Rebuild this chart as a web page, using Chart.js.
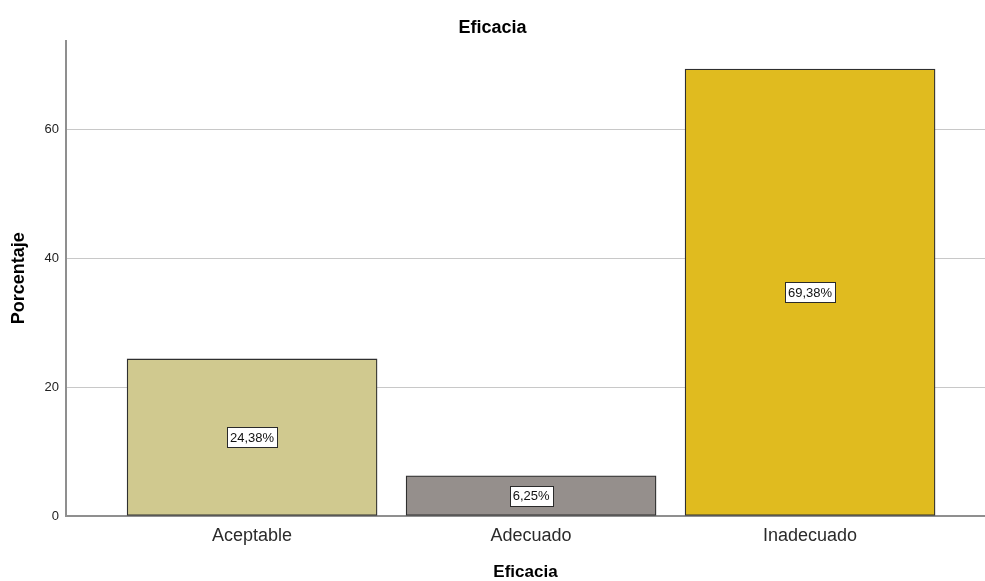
<!DOCTYPE html>
<html>
<head>
<meta charset="utf-8">
<title>Eficacia</title>
<script src="https://cdn.jsdelivr.net/npm/chart.js@4"></script>
<style>
  html, body { margin: 0; padding: 0; background: #fff; }
  #wrap { width: 985px; height: 581px; }
</style>
</head>
<body>
<div id="wrap"><canvas id="chart" width="985" height="581"></canvas></div>
<script>
const categories = ['Aceptable', 'Adecuado', 'Inadecuado'];
const percentages = [24.38, 6.25, 69.38];
const yTicks = [0, 20, 40, 60];
const barColors = ['#d0c98f', '#958f8c', '#e0bb1f'];

const fmtPct = v => v.toFixed(2).replace('.', ',') + '%';

// white boxed percentage in the middle of each bar
const barLabels = {
    id: 'barLabels',
    afterDatasetsDraw(chart) {
        const ctx = chart.ctx;
        const meta = chart.getDatasetMeta(0);
        ctx.save();
        ctx.font = '13px "Liberation Sans", Arial, sans-serif';
        ctx.textAlign = 'center';
        ctx.textBaseline = 'middle';
        meta.data.forEach((bar, i) => {
            const { x, y, base } = bar.getProps(['x', 'y', 'base'], true);
            const cy = (y + base) / 2;
            const text = fmtPct(percentages[i]);
            const w = Math.round(ctx.measureText(text).width) + 6;
            const h = 20;
            const bx = Math.round(x - w / 2) + 0.5;
            const by = Math.round(cy - h / 2) + 0.5;
            ctx.fillStyle = '#ffffff';
            ctx.fillRect(bx, by, w, h);
            ctx.strokeStyle = '#2a2a2a';
            ctx.lineWidth = 1;
            ctx.strokeRect(bx, by, w, h);
            ctx.fillStyle = '#111';
            ctx.fillText(text, x, cy + 1);
        });
        ctx.restore();
    }
};

new Chart(document.getElementById('chart'), {
    type: 'bar',
    data: {
        datasets: [{
            data: percentages.map((v, i) => ({ x: i + 1, y: v })),
            backgroundColor: barColors,
            borderColor: '#2f2f2f',
            borderWidth: 1.3,
            borderSkipped: false,
            barThickness: 250
        }]
    },
    options: {
        responsive: false,
        animation: false,
        layout: { padding: 0 },
        plugins: {
            legend: { display: false },
            tooltip: { enabled: false },
            title: {
                display: true,
                text: 'Eficacia',
                color: '#000',
                font: { family: '"Liberation Sans", Arial, sans-serif', size: 18, weight: 'bold' },
                padding: { top: 17, bottom: 2 }
            }
        },
        scales: {
            x: {
                type: 'linear',
                offset: false,
                min: 0.333,
                max: 3.627,
                grid: { display: false, drawTicks: false, offset: false },
                border: { color: '#8f8f8f', width: 2 },
                afterBuildTicks: s => { s.ticks = categories.map((c, i) => ({ value: i + 1 })); },
                afterFit: s => { s.height = 65; },
                ticks: {
                    padding: 9,
                    color: '#2b2b2b',
                    font: { family: '"Liberation Sans", Arial, sans-serif', size: 18 },
                    callback: v => categories[v - 1]
                },
                title: {
                    display: true,
                    text: 'Eficacia',
                    color: '#000',
                    font: { family: '"Liberation Sans", Arial, sans-serif', size: 17, weight: 'bold' },
                    padding: { top: 0, bottom: -2 }
                }
            },
            y: {
                min: 0,
                max: 73.8,
                grid: { color: '#c8c8c8', lineWidth: 1, drawTicks: false },
                border: { color: '#8f8f8f', width: 2 },
                afterBuildTicks: s => { s.ticks = yTicks.map(v => ({ value: v })); },
                afterFit: s => { s.width = 66; },
                ticks: {
                    padding: 7,
                    color: '#222',
                    font: { family: '"Liberation Sans", Arial, sans-serif', size: 13 }
                },
                title: {
                    display: true,
                    text: 'Porcentaje',
                    color: '#000',
                    font: { family: '"Liberation Sans", Arial, sans-serif', size: 18, weight: 'bold' },
                    padding: { top: 8, bottom: 0 }
                }
            }
        }
    },
    plugins: [barLabels]
});
</script>
</body>
</html>
